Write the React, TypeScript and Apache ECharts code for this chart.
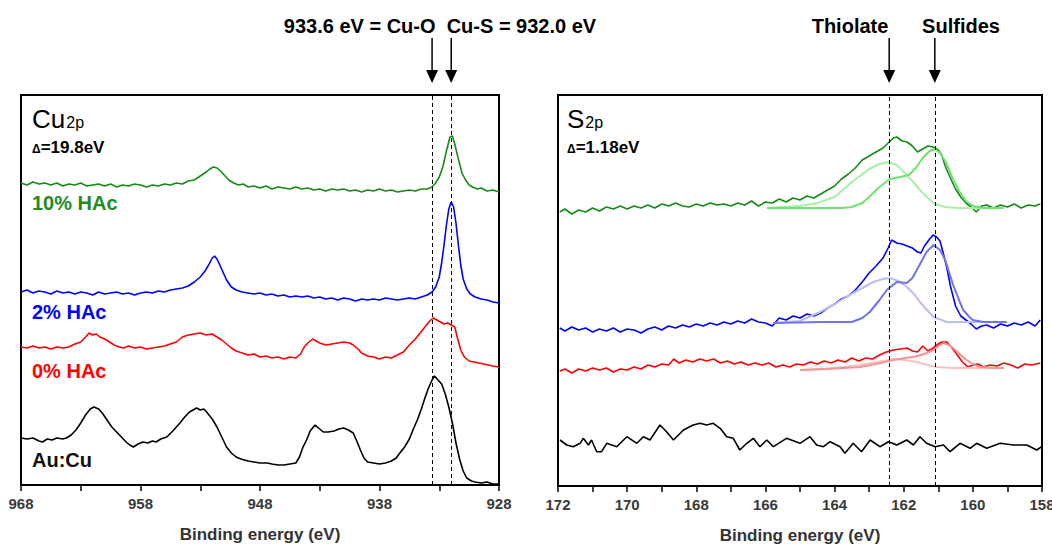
import React, { useEffect, useRef } from "react";
import * as echarts from "echarts";

// ---------- Cu 2p panel (binding energy eV, offset intensity) ----------
const cuTicks = [968, 958, 948, 938, 928];
const cuGreen10: number[][] = [[968,302],[967.5,300],[967,303],[966.5,301],[966,302],[965.5,300],[965,302],[964.5,299],[964,301],[963.5,300],[963,302],[962.5,299],[962,300],[961.5,301],[961,299],[960.5,301],[960,298],[959.5,300],[959,299],[958.5,301],[958,300],[957.5,298],[957,300],[956.5,299],[956,301],[955.5,300],[955,302],[954.5,301],[954,304],[953.5,305],[953,309],[952.5,313],[952.2,316],[951.9,318],[951.6,317],[951.3,314],[951,310],[950.6,305],[950.2,302],[949.8,300],[949.4,301],[949,298],[948.5,299],[948,297],[947.5,299],[947,296],[946.5,298],[946,297],[945.5,296],[945,298],[944.5,296],[944,297],[943.5,295],[943,296],[942.5,294],[942,296],[941.5,295],[941,296],[940.5,294],[940,295],[939.5,293],[939,295],[938.5,294],[938,296],[937.5,294],[937,295],[936.5,293],[936,294],[935.5,295],[935,294],[934.5,296],[934,296],[933.6,298],[933.3,302],[933,308],[932.7,318],[932.4,334],[932.1,348],[931.9,349],[931.7,341],[931.4,326],[931.1,312],[930.8,305],[930.5,300],[930.2,298],[929.8,296],[929.5,297],[929,294],[928.5,295],[928,293]];
const cuBlue2: number[][] = [[968,193],[967.5,195],[967,192],[966.5,194],[966,193],[965.5,191],[965,194],[964.5,192],[964,193],[963.5,191],[963,193],[962.5,192],[962,190],[961.5,193],[961,191],[960.5,192],[960,193],[959.5,191],[959,192],[958.5,190],[958,192],[957.5,193],[957,192],[956.5,194],[956,193],[955.5,195],[955,196],[954.5,197],[954,199],[953.5,203],[953,208],[952.6,214],[952.3,220],[952,227],[951.8,229],[951.6,226],[951.4,221],[951.1,213],[950.8,205],[950.4,198],[950,195],[949.5,193],[949,192],[948.5,191],[948,192],[947.5,190],[947,191],[946.5,189],[946,190],[945.5,188],[945,189],[944.5,188],[944,189],[943.5,187],[943,188],[942.5,186],[942,187],[941.5,185],[941,187],[940.5,186],[940,184],[939.5,186],[939,185],[938.5,186],[938,185],[937.5,187],[937,186],[936.5,185],[936,186],[935.5,187],[935,186],[934.5,188],[934,190],[933.6,193],[933.3,198],[933,208],[932.8,222],[932.6,240],[932.4,260],[932.2,276],[932,283],[931.8,278],[931.6,262],[931.4,240],[931.2,220],[931,206],[930.7,196],[930.4,191],[930,188],[929.5,186],[929,185],[928.5,183],[928,182]];
const cuRed0: number[][] = [[968,138],[967.5,137],[967,139],[966.5,137],[966,138],[965.5,136],[965,138],[964.5,137],[964,138],[963.5,141],[963,143],[962.6,148],[962.3,152],[962,150],[961.7,151],[961.4,148],[961,146],[960.6,143],[960.2,140],[959.8,138],[959.4,137],[959,139],[958.5,137],[958,138],[957.5,136],[957,137],[956.5,138],[956,139],[955.5,141],[955,143],[954.5,148],[954,150],[953.5,151],[953,152],[952.5,150],[952,151],[951.6,148],[951.2,145],[950.8,141],[950.4,137],[950,134],[949.5,132],[949,130],[948.5,131],[948,128],[947.5,129],[947,127],[946.5,128],[946,126],[945.5,128],[945,127],[944.6,131],[944.3,138],[944,142],[943.6,146],[943.3,144],[943,142],[942.5,140],[942,141],[941.5,142],[941,143],[940.5,142],[940.2,140],[939.8,136],[939.5,132],[939,129],[938.5,128],[938,126],[937.5,128],[937,127],[936.5,130],[936,133],[935.5,140],[935,146],[934.6,152],[934.2,158],[933.8,164],[933.5,167],[933.2,165],[932.9,163],[932.6,161],[932.3,162],[932,160],[931.7,158],[931.5,148],[931.2,135],[930.9,128],[930.5,124],[930.1,123],[929.7,122],[929.3,121],[928.9,120],[928.5,119],[928,118]];
const cuAuCu: number[][] = [[968,47],[967.5,46],[967,47],[966.5,44],[966.2,43],[965.8,46],[965.4,45],[965,47],[964.5,46],[964.2,47],[963.8,50],[963.4,55],[963,62],[962.6,70],[962.2,76],[961.9,78],[961.5,76],[961.2,72],[960.8,65],[960.4,58],[960,53],[959.6,48],[959.2,43],[958.9,40],[958.6,38],[958.2,41],[957.8,43],[957.4,42],[957,44],[956.7,43],[956.3,46],[955.8,48],[955.3,54],[954.7,62],[954.3,68],[953.9,73],[953.6,75],[953.3,77],[953,75],[952.7,76],[952.4,72],[952,66],[951.6,58],[951.2,48],[950.8,38],[950.4,32],[950,28],[949.6,26],[949,24],[948.5,23],[948,22],[947.4,22],[947,21],[946.5,20],[946,20],[945.5,21],[945,22],[944.7,28],[944.4,38],[944.1,45],[943.8,54],[943.4,60],[943.1,57],[942.7,53],[942.3,53],[941.8,54],[941.4,56],[941,57],[940.6,55],[940.2,52],[939.9,44],[939.6,35],[939.3,27],[939,23],[938.5,22],[938,21],[937.5,22],[937,24],[936.6,27],[936.3,32],[935.9,38],[935.5,46],[935.2,55],[934.8,66],[934.5,76],[934.2,87],[933.9,97],[933.6,105],[933.4,109],[933.1,105],[932.8,101],[932.5,91],[932.2,78],[931.9,62],[931.6,42],[931.3,26],[931,14],[930.7,7],[930.3,4],[930,3],[929.5,2],[929,3],[928.5,1],[928,1]];
const cuMarkers = [933.6, 932.0];

// ---------- S 2p panel ----------
const sTicks = [172, 170, 168, 166, 164, 162, 160, 158];
const sGreen10: number[][] = [[171.95,274],[171.8,277],[171.6,272],[171.4,276],[171.2,274],[171.0,278],[170.8,275],[170.6,279],[170.4,277],[170.2,280],[170.0,277],[169.8,280],[169.6,278],[169.4,281],[169.2,278],[169.0,282],[168.8,280],[168.6,283],[168.4,280],[168.2,279],[168.0,282],[167.8,280],[167.6,283],[167.4,281],[167.2,282],[167.0,280],[166.8,283],[166.6,281],[166.4,285],[166.2,280],[166.0,284],[165.8,283],[165.6,287],[165.4,284],[165.2,288],[165.0,286],[164.8,290],[164.6,288],[164.4,292],[164.2,296],[164.0,300],[163.8,307],[163.6,312],[163.4,318],[163.2,326],[163.0,330],[162.8,334],[162.6,338],[162.45,343],[162.3,348],[162.2,349],[162.05,345],[161.9,344],[161.75,340],[161.6,334],[161.45,337],[161.3,340],[161.15,339],[161.0,336],[160.9,331],[160.8,320],[160.65,308],[160.5,297],[160.35,289],[160.2,283],[160.05,279],[159.9,274],[159.75,280],[159.6,281],[159.4,278],[159.2,281],[159.0,279],[158.8,282],[158.6,278],[158.4,281],[158.2,280],[158.05,282]];
const sGreenThiolate: number[][] = [[165.95,278],[165.5,279],[165,280],[164.5,283],[164,289],[163.5,304],[163,317],[162.7,322],[162.45,324],[162.2,321],[162,314],[161.75,305],[161.5,295],[161.3,288],[161.1,282],[160.8,279],[160.4,278],[159.8,278],[159.1,278]];
const sGreenSulfide: number[][] = [[165.95,278],[164.5,278],[163.8,278],[163.5,279],[163.2,283],[163,289],[162.7,299],[162.4,307],[162.1,309],[161.85,311],[161.65,318],[161.45,328],[161.25,335],[161.1,337],[160.95,333],[160.8,325],[160.6,309],[160.4,295],[160.2,285],[160,280],[159.7,278],[159.1,278]];
const sBlue2: number[][] = [[171.95,158],[171.8,155],[171.6,159],[171.4,156],[171.2,158],[171.0,154],[170.8,157],[170.6,155],[170.4,158],[170.2,154],[170.0,157],[169.8,156],[169.6,153],[169.4,157],[169.2,159],[169.0,156],[168.8,160],[168.6,158],[168.4,161],[168.2,159],[168.0,162],[167.8,160],[167.6,163],[167.4,161],[167.2,164],[167.0,162],[166.8,165],[166.6,163],[166.4,167],[166.2,164],[166.0,163],[165.8,160],[165.6,168],[165.4,166],[165.2,170],[165.0,168],[164.8,172],[164.6,170],[164.4,173],[164.2,178],[164.0,182],[163.8,187],[163.6,190],[163.4,196],[163.2,204],[163.0,213],[162.8,220],[162.6,228],[162.45,238],[162.35,246],[162.2,243],[162.05,242],[161.9,240],[161.75,238],[161.6,234],[161.5,233],[161.4,240],[161.25,247],[161.15,251],[161.05,249],[160.95,245],[160.85,232],[160.75,218],[160.65,200],[160.5,180],[160.35,170],[160.2,166],[160.05,162],[159.9,157],[159.75,160],[159.6,161],[159.4,158],[159.2,162],[159.0,160],[158.8,163],[158.6,161],[158.4,164],[158.2,160],[158.05,166]];
const sBlueThiolate: number[][] = [[165.77,163],[165,165],[164.42,174],[164,182],[163.46,193],[162.88,204],[162.6,207],[162.4,208],[162.15,205],[161.91,199],[161.7,192],[161.53,184],[161.3,175],[161.14,169],[160.9,166],[160.76,164],[160,164],[159.02,164]];
const sBlueSulfide: number[][] = [[165.77,163],[164.4,164],[163.5,164],[163.2,168],[162.98,174],[162.7,186],[162.49,196],[162.2,204],[161.91,203],[161.75,208],[161.62,216],[161.45,227],[161.34,234],[161.14,241],[160.95,236],[160.8,226],[160.57,201],[160.4,186],[160.28,176],[160.1,169],[160,166],[159.7,164],[159.02,164]];
const sRed0: number[][] = [[171.95,115],[171.8,117],[171.6,113],[171.4,117],[171.2,115],[171.0,118],[170.8,116],[170.6,118],[170.4,114],[170.2,117],[170.0,116],[169.8,119],[169.6,117],[169.4,121],[169.2,119],[169.0,122],[168.8,121],[168.65,127],[168.5,123],[168.3,126],[168.1,124],[167.9,127],[167.7,125],[167.5,127],[167.3,123],[167.1,125],[166.9,122],[166.7,124],[166.5,121],[166.3,123],[166.1,121],[165.9,123],[165.7,119],[165.5,121],[165.3,119],[165.1,122],[164.9,121],[164.7,124],[164.5,122],[164.3,125],[164.1,123],[163.9,126],[163.7,124],[163.5,128],[163.3,125],[163.1,128],[162.9,127],[162.7,131],[162.5,134],[162.3,136],[162.1,137],[161.9,138],[161.75,135],[161.6,134],[161.45,140],[161.3,135],[161.15,138],[161.0,142],[160.9,144],[160.75,144],[160.6,138],[160.45,131],[160.3,124],[160.15,119],[160.0,121],[159.85,122],[159.7,119],[159.5,121],[159.3,120],[159.1,123],[158.9,121],[158.7,118],[158.5,122],[158.3,121],[158.05,123]];
const sRedThiolate: number[][] = [[165,116],[164.4,117],[163.75,119],[163.26,121],[162.97,123],[162.6,125],[162.3,127],[162,126],[161.62,124],[161.3,121],[161.05,119],[160.57,118],[159.8,118],[159.1,118]];
const sRedSulfide: number[][] = [[165,116],[164.2,117],[163.26,119],[162.8,122],[162.3,126],[161.95,128],[161.72,129],[161.4,132],[161.14,136],[160.95,141],[160.85,143],[160.7,141],[160.57,138],[160.35,131],[160.18,126],[160,122],[159.79,119],[159.4,118],[159.1,118]];
const sAuCu: number[][] = [[171.94,46],[171.75,41],[171.56,39.3],[171.36,42.7],[171.27,47.7],[171.12,41],[171.03,46],[170.88,34.3],[170.74,34.3],[170.59,42.7],[170.3,39.3],[170.01,49.3],[169.72,42.7],[169.53,49.3],[169.34,46],[169.05,61],[168.86,54.3],[168.66,46],[168.37,56],[168.09,61],[167.89,62.7],[167.7,61],[167.51,62.7],[167.31,57.7],[167.12,49.3],[166.93,47.7],[166.74,36],[166.54,42.7],[166.35,47.7],[166.16,39.3],[165.96,46],[165.77,39.3],[165.39,47.7],[165.0,42.7],[164.71,49.3],[164.52,41],[164.32,39.3],[164.13,44.3],[163.84,39.3],[163.7,32.7],[163.46,42.7],[163.22,34.3],[162.97,46],[162.69,39.3],[162.44,44.3],[162.2,41],[161.91,46],[161.72,41],[161.53,49.3],[161.34,42.7],[161.09,39.3],[160.85,41],[160.66,34.3],[160.37,42.7],[160.08,37.7],[159.89,42.7],[159.6,37.7],[159.21,42.7],[158.83,41],[158.44,41],[158.15,36],[158.01,39.3]];
const sMarkers = [162.42, 161.1];

const FONT = "'Liberation Sans', Arial, sans-serif";

function line(name: string, data: number[][], color: string, idx: number, width = 1.6, extra: any = {}) {
  return {
    name,
    type: "line",
    xAxisIndex: idx,
    yAxisIndex: idx,
    data,
    showSymbol: false,
    symbol: "none",
    lineStyle: { color, width },
    itemStyle: { color },
    silent: true,
    z: 3,
    ...extra,
  };
}

function dashed(values: number[]) {
  return {
    symbol: "none",
    silent: true,
    label: { show: false },
    lineStyle: { color: "#000", width: 1, type: [4, 3] },
    data: values.map((v) => ({ xAxis: v })),
  };
}

function xAxisCfg(idx: number, min: number, max: number, interval: number) {
  return {
    type: "value",
    gridIndex: idx,
    min,
    max,
    interval,
    inverse: true,
    name: "Binding energy (eV)",
    nameLocation: "middle",
    nameGap: 41,
    nameTextStyle: { fontFamily: FONT, fontSize: 17, fontWeight: "bold", color: "#333" },
    axisLine: { show: true, lineStyle: { color: "#000", width: 2 } },
    axisTick: { show: true, inside: false, length: 6, lineStyle: { color: "#000", width: 1.5 } },
    minorTick: { show: true, splitNumber: 2, length: 6, lineStyle: { color: "#000", width: 1.5 } },
    splitLine: { show: false },
    minorSplitLine: { show: false },
    axisLabel: {
      show: true,
      margin: 11,
      fontFamily: FONT,
      fontSize: 15,
      fontWeight: "bold",
      color: "#3a3a3a",
      showMinLabel: true,
      showMaxLabel: true,
    },
  };
}

export default function App() {
  const ref = useRef<HTMLDivElement>(null);
  useEffect(() => {
    if (!ref.current) return;
    const chart = echarts.init(ref.current, undefined, { renderer: "svg" });
    const gridBase = { show: true, borderColor: "#000", borderWidth: 2, backgroundColor: "transparent", containLabel: false, outerBoundsMode: "none" };
    const option: any = {
      animation: false,
      backgroundColor: "#fff",
      grid: [
        { ...gridBase, left: 21, top: 95, width: 478, height: 390 },
        { ...gridBase, left: 558, top: 95, width: 484, height: 391 },
      ],
      xAxis: [
        xAxisCfg(0, cuTicks[cuTicks.length - 1], cuTicks[0], 10),
        xAxisCfg(1, sTicks[sTicks.length - 1], sTicks[0], 2),
      ],
      yAxis: [
        { type: "value", gridIndex: 0, min: 0, max: 390, show: false },
        { type: "value", gridIndex: 1, min: 0, max: 391, show: false },
      ],
      series: [
        line("Cu 10% HAc", cuGreen10, "#168a16", 0, 1.6, { markLine: dashed(cuMarkers) }),
        line("Cu 2% HAc", cuBlue2, "#0000ff", 0),
        line("Cu 0% HAc", cuRed0, "#ff0000", 0),
        line("Cu Au:Cu", cuAuCu, "#000000", 0),
        line("S 10% HAc", sGreen10, "#168a16", 1, 1.6, { markLine: dashed(sMarkers) }),
        line("S 10% thiolate", sGreenThiolate, "#a8f0a8", 1, 2, { z: 4 }),
        line("S 10% sulfide", sGreenSulfide, "#6ee26e", 1, 2, { z: 4 }),
        line("S 2% HAc", sBlue2, "#0000ff", 1),
        line("S 2% thiolate", sBlueThiolate, "#bcbcf6", 1, 2, { z: 4 }),
        line("S 2% sulfide", sBlueSulfide, "#7373ea", 1, 2, { z: 4 }),
        line("S 0% HAc", sRed0, "#ff0000", 1),
        line("S 0% thiolate", sRedThiolate, "#f9c4c4", 1, 2, { z: 4 }),
        line("S 0% sulfide", sRedSulfide, "#f49494", 1, 2, { z: 4 }),
        line("S Au:Cu", sAuCu, "#000000", 1),
      ],
    };
    chart.setOption(option);

    const arrow = (x: number, id: string) => [
      { type: "line", id: id + "l", shape: { x1: x, y1: 38, x2: x, y2: 71 }, style: { stroke: "#000", lineWidth: 1.5 } },
      { type: "polygon", id: id + "h", shape: { points: [[x - 6, 70], [x + 6, 70], [x, 83]] }, style: { fill: "#000" } },
    ];
    const px = (axis: number, v: number) => chart.convertToPixel({ xAxisIndex: axis } as any, v) as number;
    const titleRich = {
      a: { fontFamily: FONT, fontSize: 26, fontWeight: "normal", fill: "#000", verticalAlign: "bottom" },
      b: { fontFamily: FONT, fontSize: 16, fontWeight: "normal", fill: "#000", verticalAlign: "bottom", padding: [0, 0, 2, 1] },
    };
    const deltaRich = {
      a: { fontFamily: FONT, fontSize: 12, fontWeight: "bold", fill: "#000", verticalAlign: "bottom", padding: [0, 0, 1, 0] },
      b: { fontFamily: FONT, fontSize: 17, fontWeight: "bold", fill: "#000", verticalAlign: "bottom" },
    };
    const graphic: any[] = [
      ...arrow(px(0, cuMarkers[0]), "a1"),
      ...arrow(px(0, cuMarkers[1]), "a2"),
      ...arrow(px(1, sMarkers[0]), "a3"),
      ...arrow(px(1, sMarkers[1]), "a4"),
      { type: "text", x: 440, y: 26, style: { text: "933.6 eV = Cu-O  Cu-S = 932.0 eV", font: `bold 20px ${FONT}`, fill: "#000", align: "center", verticalAlign: "middle" } },
      { type: "text", x: 850, y: 26, style: { text: "Thiolate", font: `bold 20px ${FONT}`, fill: "#000", align: "center", verticalAlign: "middle" } },
      { type: "text", x: 961, y: 26, style: { text: "Sulfides", font: `bold 20px ${FONT}`, fill: "#000", align: "center", verticalAlign: "middle" } },
      { type: "text", x: 32, y: 106, style: { text: "{a|Cu}{b|2p}", rich: titleRich } },
      { type: "text", x: 32, y: 139, style: { text: "{a|Δ}{b|=19.8eV}", rich: deltaRich } },
      { type: "text", x: 567, y: 106, style: { text: "{a|S}{b|2p}", rich: titleRich } },
      { type: "text", x: 567, y: 139, style: { text: "{a|Δ}{b|=1.18eV}", rich: deltaRich } },
      { type: "text", x: 32, y: 203, style: { text: "10% HAc", font: `bold 20px ${FONT}`, fill: "#1f8c1f", verticalAlign: "middle" } },
      { type: "text", x: 32, y: 312, style: { text: "2% HAc", font: `bold 20px ${FONT}`, fill: "#0000ff", verticalAlign: "middle" } },
      { type: "text", x: 32, y: 371, style: { text: "0% HAc", font: `bold 20px ${FONT}`, fill: "#ff0000", verticalAlign: "middle" } },
      { type: "text", x: 32, y: 460, style: { text: "Au:Cu", font: `bold 20px ${FONT}`, fill: "#111", verticalAlign: "middle" } },
    ];
    chart.setOption({ graphic });
    return () => chart.dispose();
  }, []);
  return <div ref={ref} style={{ position: "fixed", left: 0, top: 0, width: 1052, height: 546, background: "#fff" }} />;
}
